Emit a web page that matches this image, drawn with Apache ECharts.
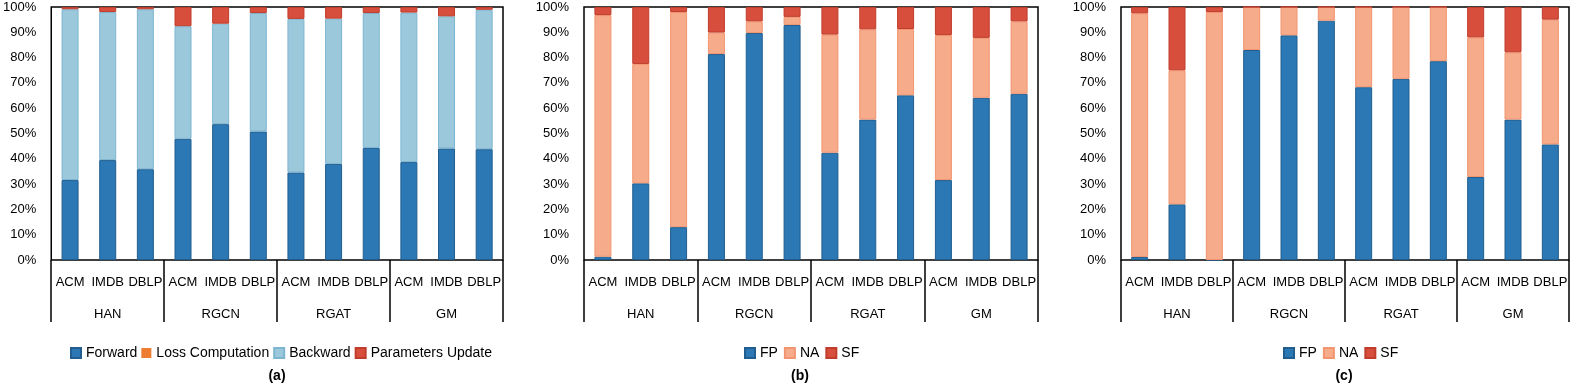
<!DOCTYPE html>
<html>
<head>
<meta charset="utf-8">
<script src="https://cdn.jsdelivr.net/npm/echarts@6/dist/echarts.min.js"></script>
<style>
  html, body { margin: 0; padding: 0; background: #fff; }
  #chart { width: 1595px; height: 386px; }
</style>
</head>
<body>
<div id="chart"></div>
<script>
const datasets = ['ACM', 'IMDB', 'DBLP', 'ACM', 'IMDB', 'DBLP', 'ACM', 'IMDB', 'DBLP', 'ACM', 'IMDB', 'DBLP']
const models = ['HAN', 'RGCN', 'RGAT', 'GM']
const yTicks = [0, 10, 20, 30, 40, 50, 60, 70, 80, 90, 100]

// (a) training phase breakdown, %
const aForward = [31.6, 39.5, 35.9, 47.9, 53.7, 50.8, 34.6, 38.0, 44.3, 38.7, 44.1, 43.8]
const aLoss = [0, 0, 0, 0, 0, 0, 0, 0, 0, 0, 0, 0]
const aBackward = [67.5, 58.5, 63.2, 44.5, 39.7, 46.8, 60.7, 57.4, 53.3, 59.1, 52.2, 55.1]
const aParams = [0.9, 2.0, 0.9, 7.6, 6.6, 2.4, 4.7, 4.6, 2.4, 2.2, 3.7, 1.1]

// (b) FP / NA / SF, %
const bFP = [1.3, 30.3, 13.0, 81.4, 89.7, 92.9, 42.4, 55.5, 65.1, 31.6, 64.1, 65.7]
const bNA = [95.5, 47.2, 85.0, 8.5, 4.6, 3.2, 46.7, 35.7, 26.2, 57.3, 23.7, 28.6]
const bSF = [3.2, 22.5, 2.0, 10.1, 5.7, 3.9, 10.9, 8.8, 8.7, 11.1, 12.2, 5.7]

// (c) FP / NA / SF, %
const cFP = [1.2, 22.0, 0, 83.0, 88.8, 94.6, 68.3, 71.6, 78.6, 32.8, 55.5, 45.7]
const cNA = [96.3, 53.0, 98.0, 17.0, 11.2, 5.4, 31.7, 28.4, 21.4, 55.2, 26.6, 49.3]
const cSF = [2.5, 25.0, 2.0, 0, 0, 0, 0, 0, 0, 12.0, 17.9, 5.0]

const FONT = '"Liberation Sans", Arial, sans-serif'
const colors = {
  forward: ['#2B78B4', '#215E8F'],
  loss: ['#ED7D31', '#ED7D31'],
  backward: ['#9CC8DC', '#7DB5D1'],
  params: ['#D84E3C', '#C03C2C'],
  fp: ['#2B78B4', '#215E8F'],
  na: ['#F6AB8B', '#F29570'],
  sf: ['#D84E3C', '#C03C2C'],
}

const panels = [
  { left: 51, width: 452 },
  { left: 584, width: 454 },
  { left: 1121, width: 448 },
]

const grid = panels.map((p) => ({
  left: p.left, width: p.width, top: 7, height: 253,
  show: true, borderColor: '#000', borderWidth: 1.5, backgroundColor: 'transparent',
}))

const xAxis = []
const yAxis = []
panels.forEach((p, i) => {
  xAxis.push({
    type: 'category', gridIndex: i, data: datasets, position: 'bottom',
    axisLine: { show: false }, axisTick: { show: false },
    axisLabel: { interval: 0, margin: 16, color: '#000', fontFamily: FONT, fontSize: 13 },
  })
  xAxis.push({
    type: 'category', gridIndex: i, data: models, position: 'bottom',
    axisLine: { show: false },
    axisTick: { show: true, length: 62, inside: false, lineStyle: { color: '#000', width: 1.5 } },
    axisLabel: { interval: 0, margin: 48, color: '#000', fontFamily: FONT, fontSize: 13 },
  })
  yAxis.push({
    type: 'value', gridIndex: i, min: yTicks[0], max: yTicks[yTicks.length - 1], interval: 10,
    axisLine: { show: false }, axisTick: { show: false }, splitLine: { show: false },
    axisLabel: { margin: 15, color: '#000', fontFamily: FONT, fontSize: 13, formatter: '{value}%' },
  })
})

function bar(name, data, c, panel, bw = 1) {
  return {
    name, type: 'bar', stack: 'p' + panel, data, barWidth: 17,
    xAxisIndex: panel * 2, yAxisIndex: panel,
    itemStyle: { color: c[0], borderColor: c[1], borderWidth: bw },
    emphasis: { disabled: true },
  }
}

const series = [
  bar('Forward', aForward, colors.forward, 0),
  bar('Loss Computation', aLoss, colors.loss, 0, 0),
  bar('Backward', aBackward, colors.backward, 0),
  bar('Parameters Update', aParams, colors.params, 0),
  bar('FP', bFP, colors.fp, 1),
  bar('NA', bNA, colors.na, 1),
  bar('SF', bSF, colors.sf, 1),
  bar('FP', cFP, colors.fp, 2),
  bar('NA', cNA, colors.na, 2),
  bar('SF', cSF, colors.sf, 2),
]

const legendBase = {
  top: 341, itemWidth: 10, itemHeight: 10, itemGap: 4, icon: 'rect',
  textStyle: { color: '#000', fontFamily: FONT, fontSize: 14 },
  selectedMode: false,
}

const option = {
  animation: false,
  grid, xAxis, yAxis, series,
  legend: [
    { ...legendBase, left: 65, data: ['Forward', 'Loss Computation', 'Backward', 'Parameters Update'] },
    { ...legendBase, left: 739, itemGap: 6, data: ['FP', 'NA', 'SF'] },
    { ...legendBase, left: 1278, itemGap: 6, data: ['FP', 'NA', 'SF'] },
  ],
  title: [
    { text: '(a)', left: 277, top: 369, textAlign: 'center' },
    { text: '(b)', left: 800, top: 369, textAlign: 'center' },
    { text: '(c)', left: 1344, top: 369, textAlign: 'center' },
  ].map((t) => ({ ...t, padding: 0, textStyle: { color: '#000', fontFamily: FONT, fontSize: 14, fontWeight: 'bold' } })),
}

const chart = echarts.init(document.getElementById('chart'))
chart.setOption(option)
</script>
</body>
</html>
